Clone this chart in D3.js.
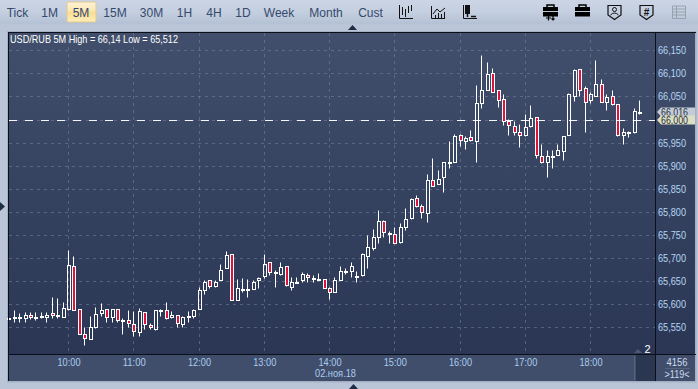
<!DOCTYPE html>
<html><head><meta charset="utf-8">
<script src="https://cdn.jsdelivr.net/npm/d3@7/dist/d3.min.js"></script>
<style>html,body{margin:0;padding:0;background:#bcc8da;overflow:hidden}svg{display:block}text{font-family:"Liberation Sans",Arial,sans-serif}</style>
</head><body><svg id="c" width="698" height="389"></svg>
<script>
const high=[65.569,65.587,65.580,65.582,65.582,65.582,65.582,65.584,65.615,65.613,65.604,65.717,65.704,65.589,65.550,65.574,65.593,65.602,65.589,65.589,65.589,65.569,65.587,65.585,65.591,65.582,65.559,65.587,65.589,65.604,65.585,65.576,65.574,65.585,65.589,65.638,65.652,65.652,65.652,65.688,65.716,65.709,65.655,65.656,65.654,65.652,65.658,65.709,65.692,65.673,65.691,65.683,65.658,65.658,65.670,65.667,65.664,65.668,65.655,65.637,65.658,65.683,65.678,65.691,65.671,65.710,65.750,65.763,65.804,65.782,65.759,65.767,65.775,65.808,65.831,65.837,65.818,65.882,65.917,65.891,65.909,65.953,65.968,65.969,65.964,65.977,66.075,66.140,66.125,66.112,66.065,66.055,66.002,65.996,65.990,66.013,66.031,66.005,65.948,65.934,65.934,65.948,65.964,66.057,66.109,66.109,66.073,66.060,66.129,66.087,66.055,66.063,66.034,65.981,65.976,66.026,66.042];
const bodyTop=[65.569,65.572,65.572,65.576,65.576,65.572,65.574,65.576,65.580,65.576,65.591,65.684,65.682,65.589,65.535,65.550,65.578,65.587,65.589,65.589,65.589,65.565,65.565,65.556,65.585,65.582,65.554,65.587,65.587,65.587,65.576,65.576,65.572,65.574,65.587,65.631,65.649,65.652,65.649,65.675,65.706,65.708,65.634,65.632,65.633,65.649,65.657,65.686,65.691,65.670,65.680,65.682,65.647,65.649,65.665,65.663,65.657,65.655,65.654,65.634,65.652,65.671,65.671,65.682,65.662,65.709,65.723,65.745,65.780,65.780,65.754,65.751,65.768,65.785,65.827,65.829,65.812,65.868,65.868,65.872,65.909,65.909,65.964,65.966,65.961,65.963,66.035,66.065,66.098,66.100,66.063,66.044,65.997,65.987,65.974,65.983,66.003,66.005,65.922,65.920,65.922,65.933,65.964,66.055,66.107,66.109,66.068,66.055,66.076,66.076,66.048,66.050,66.033,65.974,65.974,66.018,66.017];
const bodyBottom=[65.567,65.569,65.569,65.569,65.572,65.569,65.572,65.573,65.576,65.574,65.573,65.590,65.587,65.536,65.526,65.524,65.551,65.580,65.572,65.572,65.565,65.564,65.559,65.541,65.539,65.556,65.550,65.547,65.585,65.569,65.572,65.559,65.556,65.572,65.574,65.589,65.630,65.639,65.640,65.652,65.678,65.609,65.610,65.631,65.631,65.633,65.652,65.660,65.669,65.668,65.666,65.641,65.638,65.648,65.652,65.659,65.656,65.654,65.636,65.626,65.627,65.653,65.669,65.671,65.660,65.664,65.705,65.721,65.745,65.756,65.751,65.733,65.735,65.767,65.786,65.812,65.799,65.797,65.857,65.860,65.875,65.905,65.907,65.955,65.954,65.955,65.954,66.035,66.065,66.060,66.042,65.996,65.989,65.974,65.967,65.967,65.985,65.924,65.907,65.909,65.920,65.924,65.931,65.966,66.052,66.065,66.039,66.042,66.052,66.039,66.039,66.033,65.967,65.967,65.970,65.972,66.016];
const low=[65.567,65.562,65.562,65.562,65.567,65.566,65.569,65.561,65.571,65.569,65.573,65.587,65.587,65.536,65.512,65.524,65.549,65.575,65.562,65.562,65.562,65.536,65.551,65.532,65.532,65.546,65.546,65.543,65.574,65.567,65.569,65.551,65.550,65.562,65.569,65.589,65.621,65.636,65.638,65.652,65.678,65.608,65.610,65.627,65.616,65.633,65.636,65.657,65.664,65.638,65.664,65.639,65.631,65.647,65.649,65.649,65.649,65.652,65.634,65.611,65.626,65.653,65.665,65.658,65.647,65.662,65.679,65.717,65.733,65.746,65.733,65.732,65.733,65.761,65.785,65.810,65.787,65.777,65.855,65.860,65.844,65.896,65.907,65.943,65.937,65.953,65.907,66.024,66.064,66.060,66.028,65.988,65.967,65.967,65.941,65.964,65.983,65.917,65.905,65.876,65.896,65.924,65.912,65.966,66.040,66.051,65.974,66.035,66.052,66.037,66.021,66.031,65.965,65.946,65.963,65.970,66.013];
const downBars=[4,8,12,13,14,18,20,22,23,25,26,29,31,37,41,48,51,55,58,59,69,71,75,76,78,81,83,85,89,90,91,92,93,94,97,98,105,106,109,111,112,114];
const hourLabels=["10:00","11:00","12:00","13:00","14:00","15:00","16:00","17:00","18:00"];
const hourBars=[11,23,35,47,59,71,83,95,107];
const priceTicks=[66.15,66.10,66.05,66.00,65.95,65.90,65.85,65.80,65.75,65.70,65.65,65.60,65.55];
const periods=["Tick","1M","5M","15M","30M","1H","4H","1D","Week","Month","Cust"];
const periodX=[17.5,49.7,81,115,151.5,184.5,214,243,279,326,370.5];
const title="USD/RUB 5M High = 66,14 Low = 65,512";
const dateLabel="02.ноя.18";
const lastPrice=66.016, linePrice=66.000;

const svg=d3.select("#c");
const defs=svg.append("defs");
function grad(id,stops){const g=defs.append("linearGradient").attr("id",id).attr("x1",0).attr("x2",0).attr("y1",0).attr("y2",1);
 stops.forEach(s=>g.append("stop").attr("offset",s[0]).attr("stop-color",s[1]));}
grad("tb",[[0,"#cbd5e5"],[.5,"#c4cfe0"],[1,"#b4c0d4"]]);
grad("plot",[[0,"#414f6c"],[1,"#2a3653"]]);
grad("act",[[0,"#fdf3d6"],[.45,"#fbe7b4"],[.5,"#f9dc95"],[1,"#fdeeb8"]]);

const x=d3.scaleLinear().domain([11,107]).range([69,591]);
const y=d3.scaleLinear().domain([66.15,65.55]).range([50.3,327.2]);
const L=9,R=655,T=33,B=354;
const fmt=v=>d3.format(".3f")(v).replace(".",",");
const squeeze=(sel,w)=>sel.attr("textLength",w).attr("lengthAdjust","spacingAndGlyphs");

svg.append("rect").attr("width",698).attr("height",389).attr("fill","#bac6d8");
svg.append("rect").attr("width",698).attr("height",24).attr("fill","url(#tb)");
svg.append("rect").attr("x",7).attr("y",31).attr("width",689.5).attr("height",351.5).attr("fill","#a3afc2");
svg.append("rect").attr("x",L).attr("y",T).attr("width",R-L).attr("height",B-T).attr("fill","url(#plot)");
svg.append("rect").attr("x",R).attr("y",T).attr("width",695-R).attr("height",B-T).attr("fill","url(#plot)");
svg.append("rect").attr("x",L).attr("y",B).attr("width",686).attr("height",381-B).attr("fill","#414e6b");
svg.append("rect").attr("x",636).attr("y",355).attr("width",19).attr("height",26).attr("fill","#2b3650");
svg.append("line").attr("x1",634.5).attr("x2",634.5).attr("y1",356).attr("y2",380).attr("stroke","#58647e");

// toolbar
svg.append("rect").attr("x",67).attr("y",2).attr("width",29).attr("height",20).attr("rx",1.5).attr("fill","url(#act)").attr("stroke","#e3c98c");
svg.selectAll("text.p").data(periods).join("text").attr("class","p").attr("x",(d,i)=>periodX[i]).attr("y",16.5)
 .attr("text-anchor","middle").attr("font-size",12).attr("fill","#34496c").text(d=>d);

// toolbar icons
const ink="#111";
function icon(path,sw,col){svg.append("path").attr("d",path).attr("fill","none").attr("stroke",col||ink).attr("stroke-width",sw||1);}
icon("M399.5 5V18.5H413M402.5 7V15M405.5 9V17M408.5 6V13M411.5 5V11");
icon("M431.5 6V18.5H445M433 14L437 9L440 12L445 8M435.5 18V15M438.5 18V13M441.5 18V14M444.5 18V12");
icon("M463.5 5V18.5H477",1);
svg.append("rect").attr("x",465).attr("y",5).attr("width",5).attr("height",9).attr("fill",ink);
icon("M467.5 14V17M471 16.5H476",1.5);
function case_(cx){svg.append("rect").attr("x",cx-7.5).attr("y",7).attr("width",15).attr("height",9.5).attr("fill","#000");
 icon(`M${cx-3.5} 7V5H${cx+3.5}V7`,1.5,"#000");
 svg.append("line").attr("x1",cx-7.5).attr("x2",cx+7.5).attr("y1",11.5).attr("y2",11.5).attr("stroke","#bcc8da");}
case_(550.5);case_(582.5);
icon("M546 18H551M548.5 15.5V20.5M553 15.5V20M551.5 18.5L553 20L554.5 18.5",1.2,"#000");
function shield(cx){icon(`M${cx-6.5} 5.5H${cx+6.5}V15L${cx} 19.5L${cx-6.5} 15Z`,1.2,"#111");}
shield(614.5);shield(646.5);
svg.append("circle").attr("cx",614.5).attr("cy",9.5).attr("r",2).attr("fill","none").attr("stroke","#111");
icon("M610.5 15Q614.5 11 618.5 15",1,"#111");
svg.append("text").attr("x",646.5).attr("y",16).attr("text-anchor","middle").attr("font-size",10).attr("font-weight","bold").attr("fill","#111").text("#");
icon("M672.5 6H685.5V18.5H672.5ZM676.5 6V18.5M672.5 9H685.5M672.5 12H685.5M672.5 15H685.5",1,"#98a2ae");

// small arrows
function tri(d,col){svg.append("path").attr("d",d).attr("fill",col||"#1f2c45");}
tri("M348 30H357L352.5 25Z");
tri("M349 389H358L353.5 384Z");
tri("M0 202V211L5 206.5Z");
tri("M634 353H642L638 349Z","#4a5874");

// grid
const grid=svg.append("g").attr("stroke","#7c8aa8").attr("stroke-opacity",.5).attr("stroke-dasharray","3,4");
grid.selectAll("line.h").data(priceTicks).join("line").attr("class","h").attr("x1",L).attr("x2",R)
 .attr("y1",d=>Math.round(y(d))+.5).attr("y2",d=>Math.round(y(d))+.5);
grid.selectAll("line.v").data(hourBars).join("line").attr("class","v").attr("y1",T).attr("y2",B)
 .attr("x1",d=>Math.round(x(d))-.5).attr("x2",d=>Math.round(x(d))-.5);

// candles
const bars=svg.append("g");
high.forEach((h,i)=>{
  const cx=Math.round(x(i))-.5, top=Math.round(y(bodyTop[i]))+.5, bot=Math.max(Math.round(y(bodyBottom[i]))+.5,top+1);
  const hy=Math.round(y(h))+.5, ly=Math.round(y(low[i]))+.5;
  const down=downBars.includes(i);
  const g=bars.append("g");
  g.append("line").attr("x1",cx).attr("x2",cx).attr("y1",hy).attr("y2",top).attr("stroke","#fff");
  g.append("line").attr("x1",cx).attr("x2",cx).attr("y1",bot).attr("y2",ly).attr("stroke","#fff");
  g.append("rect").attr("x",cx-1).attr("y",top).attr("width",3).attr("height",bot-top)
   .attr("fill",down?"#dc143c":"none").attr("stroke","#fff");
});

// price line
const ly0=Math.round(y(linePrice))+.5;
svg.append("line").attr("x1",L).attr("x2",R).attr("y1",ly0).attr("y2",ly0).attr("stroke","#fff").attr("stroke-opacity",.95).attr("stroke-dasharray","8,8");

// frame
const fr=svg.append("g").attr("stroke","#0a0f1a").attr("stroke-width",1);
fr.append("line").attr("x1",8).attr("x2",696).attr("y1",32.5).attr("y2",32.5);
fr.append("line").attr("x1",8.5).attr("x2",8.5).attr("y1",32).attr("y2",381);
fr.append("line").attr("x1",655.5).attr("x2",655.5).attr("y1",32).attr("y2",381);
fr.append("line").attr("x1",8).attr("x2",696).attr("y1",354.5).attr("y2",354.5);

// title
squeeze(svg.append("text").attr("x",10).attr("y",42.5).attr("font-size",10.5).attr("fill","#fff").text(title),168);

// y labels
squeeze(svg.selectAll("text.y").data(priceTicks.filter(d=>d!==linePrice)).join("text").attr("class","y")
 .attr("x",658).attr("y",d=>y(d)+4).attr("font-size",11).attr("fill","#b5d6f5").text(fmt),28);

// price flags
function flag(v,fill,cy){
 svg.append("path").attr("d",`M657 ${cy}L661 ${cy-4.5}H695V${cy+4.5}H661Z`).attr("fill",fill);
 squeeze(svg.append("text").attr("x",661).attr("y",cy+4).attr("font-size",11).attr("fill","#2a3040").text(fmt(v)),27);
}
flag(lastPrice,"#c3cbd8",Math.round(y(lastPrice)));
flag(linePrice,"#dcdfc4",Math.round(y(linePrice)));

// x labels
squeeze(svg.selectAll("text.x").data(hourBars).join("text").attr("class","x").attr("x",d=>x(d)).attr("y",366)
 .attr("text-anchor","middle").attr("font-size",11).attr("fill","#a9cdf0").text((d,i)=>hourLabels[i]),23);
squeeze(svg.append("text").attr("x",335.5).attr("y",377).attr("text-anchor","middle").attr("font-size",11).attr("fill","#a9cdf0").text(dateLabel),41);

svg.append("text").attr("x",647.5).attr("y",353).attr("text-anchor","middle").attr("font-size",11).attr("fill","#fff").text("2");
squeeze(svg.append("text").attr("x",677).attr("y",365.5).attr("text-anchor","middle").attr("font-size",11).attr("fill","#c8daf0").text("4156"),21);
svg.append("line").attr("x1",665).attr("x2",690).attr("y1",368.5).attr("y2",368.5).attr("stroke","#58647e");
squeeze(svg.append("text").attr("x",677).attr("y",378).attr("text-anchor","middle").attr("font-size",11).attr("fill","#c8daf0").text(">119<"),25);
</script></body></html>
